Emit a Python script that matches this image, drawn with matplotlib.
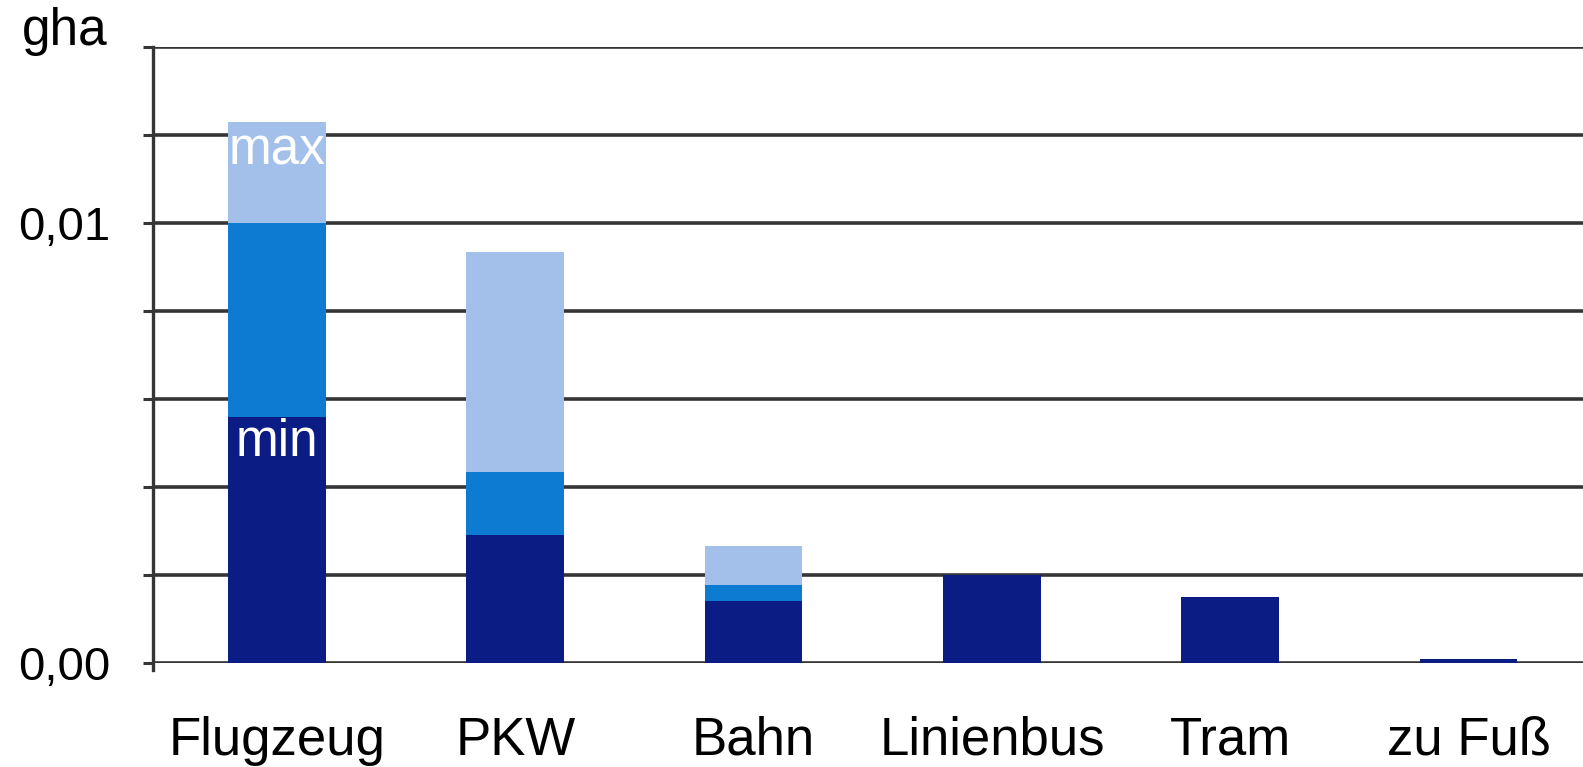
import numpy as np
import matplotlib
matplotlib.use("Agg")
from matplotlib import pyplot as plt

plt.rcParams['font.family'] = ['Liberation Sans', 'DejaVu Sans']

# Werte in gha (kumuliert: min, mittel, max)
kategorien = ["Flugzeug", "PKW", "Bahn", "Linienbus", "Tram", "zu Fuß"]
wert_min = [0.0056, 0.0029, 0.0014, 0.0020, 0.0015, 0.0001]
wert_mittel = [0.0100, 0.00435, 0.00178, 0.0020, 0.0015, 0.0001]
wert_max = [0.0123, 0.00935, 0.00265, 0.0020, 0.0015, 0.0001]

y_ticks = [0.0, 0.002, 0.004, 0.006, 0.008, 0.010, 0.012, 0.014]
y_labels = ["0,00", "", "", "", "", "0,01", "", ""]

farbe_min = "#0b1c84"
farbe_mittel = "#0d7bd2"
farbe_max = "#a3c0ea"
grau = "#353535"

fig = plt.figure(figsize=(15.83, 7.67), dpi=100)
ax = fig.add_axes([0.0967, 0.1356, 0.9033, 0.8031])

x = np.arange(len(kategorien))
b = 0.41
teil_mittel = np.array(wert_mittel) - np.array(wert_min)
teil_max = np.array(wert_max) - np.array(wert_mittel)

ax.bar(x, wert_min, width=b, color=farbe_min, zorder=2)
ax.bar(x, teil_mittel, width=b, bottom=wert_min, color=farbe_mittel, zorder=2)
ax.bar(x, teil_max, width=b, bottom=wert_mittel, color=farbe_max, zorder=2)

# Beschriftung in der Flugzeug-Säule
ax.text(x[0], 0.01132, "max", color="white", ha="center", va="baseline",
        fontsize=37, zorder=3)
ax.text(x[0], 0.00470, "min", color="white", ha="center", va="baseline",
        fontsize=37, zorder=3)

ax.set_xlim(-0.52, 5.48)
ax.set_ylim(0, 0.014)
ax.set_yticks(y_ticks)
ax.set_yticklabels(y_labels, fontsize=34)
ax.set_xticks(x)
ax.set_xticklabels(kategorien, fontsize=38)

ax.yaxis.grid(True, color=grau, linewidth=2.6, zorder=1)
ax.set_axisbelow(True)
ax.tick_params(axis="y", length=7, width=2.2, color=grau, pad=24)
ax.tick_params(axis="x", length=0, pad=38)

for s in ["top", "right", "bottom"]:
    ax.spines[s].set_visible(False)
ax.spines["left"].set_color(grau)
ax.spines["left"].set_linewidth(2.4)
ax.spines["left"].set_bounds(-0.00015, 0.014)

fig.text(0.0139, 0.9413, "gha", fontsize=37, ha="left", va="baseline")

plt.savefig("out.png", dpi=100)
